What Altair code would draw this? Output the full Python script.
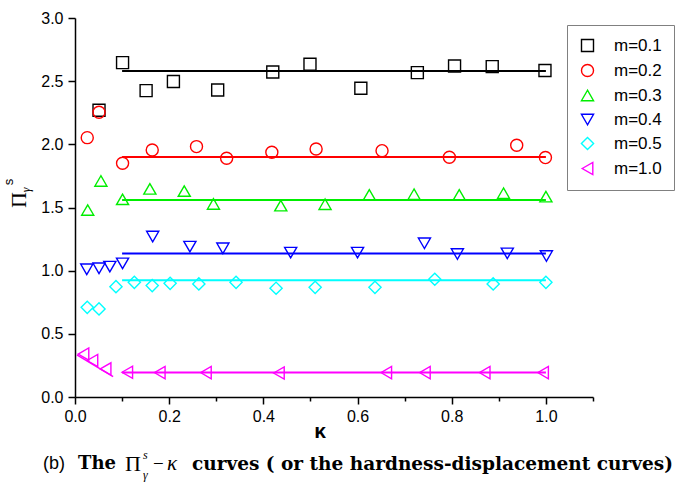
import altair as alt
import pandas as pd

# ---------------- data ----------------
series_labels = ["m=0.1", "m=0.2", "m=0.3", "m=0.4", "m=0.5", "m=1.0"]
series_colors = ["#000000", "#ff0000", "#00ee00", "#0000ff", "#00ffff", "#ff00ff"]
series_shapes = ["square", "circle", "triangle-up", "triangle-down", "diamond", "triangle-left"]
series_sizes = [144, 150, 190, 190, 220, 190]

m01_x = [0.051, 0.101, 0.151, 0.209, 0.303, 0.420, 0.499, 0.607, 0.727, 0.806, 0.886, 0.998]
m01_y = [2.27, 2.647, 2.425, 2.497, 2.43, 2.573, 2.634, 2.444, 2.568, 2.62, 2.615, 2.584]

m02_x = [0.026, 0.051, 0.101, 0.164, 0.258, 0.322, 0.418, 0.512, 0.652, 0.795, 0.938, 0.999]
m02_y = [2.053, 2.254, 1.85, 1.955, 1.982, 1.89, 1.937, 1.963, 1.95, 1.898, 1.993, 1.895]

m03_x = [0.027, 0.055, 0.101, 0.159, 0.232, 0.294, 0.437, 0.531, 0.625, 0.720, 0.816, 0.910, 1.000]
m03_y = [1.48, 1.71, 1.565, 1.647, 1.63, 1.528, 1.515, 1.526, 1.60, 1.605, 1.60, 1.613, 1.586]

m04_x = [0.025, 0.051, 0.074, 0.101, 0.165, 0.244, 0.314, 0.458, 0.600, 0.742, 0.812, 0.918, 1.001]
m04_y = [1.011, 1.019, 1.032, 1.058, 1.27, 1.19, 1.177, 1.143, 1.143, 1.217, 1.132, 1.137, 1.116]

m05_x = [0.026, 0.051, 0.087, 0.126, 0.164, 0.202, 0.263, 0.342, 0.427, 0.510, 0.637, 0.764, 0.888, 1.000]
m05_y = [0.71, 0.697, 0.873, 0.908, 0.882, 0.90, 0.895, 0.908, 0.861, 0.868, 0.868, 0.932, 0.895, 0.908]

m10_x = [0.018, 0.037, 0.065, 0.111, 0.180, 0.278, 0.433, 0.661, 0.743, 0.870, 0.994]
m10_y = [0.34, 0.289, 0.222, 0.196, 0.193, 0.193, 0.19, 0.193, 0.193, 0.193, 0.193]

# horizontal fitted levels (drawn from kappa = 0.1 to 1.0)
fit_levels = [2.58, 1.90, 1.56, 1.135, 0.925, 0.193]
fit_start = 0.1
fit_end = 1.0

# short sloping magenta segment at the left
m10_edge_x = [0.004, 0.081]
m10_edge_y = [0.333, 0.161]

x_ticks = [0.0, 0.1, 0.2, 0.3, 0.4, 0.5, 0.6, 0.7, 0.8, 0.9, 1.0, 1.1]
y_ticks = [0.0, 0.25, 0.5, 0.75, 1.0, 1.25, 1.5, 1.75, 2.0, 2.25, 2.5, 2.75, 3.0]

# ---------------- tables ----------------
xs = [m01_x, m02_x, m03_x, m04_x, m05_x, m10_x]
ys = [m01_y, m02_y, m03_y, m04_y, m05_y, m10_y]
rows = []
for lab, xx, yy in zip(series_labels, xs, ys):
    for a, b in zip(xx, yy):
        rows.append({"series": lab, "kappa": a, "pi": b})
pts = pd.DataFrame(rows)

fits = pd.DataFrame({
    "series": series_labels,
    "x0": [fit_start] * 6,
    "x1": [fit_end] * 6,
    "level": fit_levels,
    "col": series_colors,
})

edge = pd.DataFrame({"kappa": m10_edge_x, "pi": m10_edge_y, "col": [series_colors[5]] * 2})

xscale = alt.Scale(domain=[0, 1.1], nice=False, zero=False)
yscale = alt.Scale(domain=[0, 3], nice=False, zero=False)

x_major = "abs(datum.value*5-round(datum.value*5))<0.001"
y_major = "abs(datum.value*2-round(datum.value*2))<0.001"

xaxis = alt.Axis(values=x_ticks, title=None, grid=False,
                 labelExpr=f"{x_major} ? format(datum.value,'.1f') : ''",
                 tickSize={"condition": {"test": x_major, "value": 7}, "value": 4},
                 labelOverlap=False, labelFlush=False, labelPadding=4)
yaxis = alt.Axis(values=y_ticks, title=None, grid=False,
                 labelExpr=f"{y_major} ? format(datum.value,'.1f') : ''",
                 tickSize={"condition": {"test": y_major, "value": 7}, "value": 4},
                 labelOverlap=False, labelFlush=False, labelPadding=5)

rules = alt.Chart(fits).mark_rule(strokeWidth=2).encode(
    x=alt.X("x0:Q", scale=xscale, axis=xaxis),
    x2="x1:Q",
    y=alt.Y("level:Q", scale=yscale, axis=yaxis),
    color=alt.Color("col:N", scale=None),
)

edge_line = alt.Chart(edge).mark_line(strokeWidth=1.5).encode(
    x=alt.X("kappa:Q", scale=xscale),
    y=alt.Y("pi:Q", scale=yscale),
    color=alt.Color("col:N", scale=None),
)

points = alt.Chart(pts).mark_point(filled=False, strokeWidth=1.4, opacity=1).encode(
    x=alt.X("kappa:Q", scale=xscale),
    y=alt.Y("pi:Q", scale=yscale),
    color=alt.Color("series:N", scale=alt.Scale(domain=series_labels, range=series_colors),
                    legend=alt.Legend(orient="none", legendX=492, legendY=7, title=None,
                                      strokeColor="#808080", fillColor="white", padding=12,
                                      labelFont="Liberation Sans", labelFontSize=17,
                                      labelColor="black", symbolSize=140,
                                      symbolStrokeWidth=1.4, rowPadding=6, labelOffset=18)),
    shape=alt.Shape("series:N", scale=alt.Scale(domain=series_labels, range=series_shapes)),
    size=alt.Size("series:N", scale=alt.Scale(domain=series_labels, range=series_sizes), legend=None),
)

# annotations (titles and caption)
def txt(s, x, y, size, font="Liberation Sans", weight="normal", style="normal", angle=0, align="left"):
    return alt.Chart(pd.DataFrame({"t": [s]})).mark_text(
        font=font, fontSize=size, fontWeight=weight, fontStyle=style, angle=angle,
        align=align, baseline="middle", color="black"
    ).encode(text="t:N", x=alt.value(x), y=alt.value(y))

ytitle = (txt("Π", -56, 182, 22, font="Liberation Serif", angle=270, align="center")
          + txt("s", -66, 164, 13, font="Liberation Sans", angle=270, align="center")
          + txt("γ", -49, 172, 12, font="Liberation Serif", style="italic", angle=270, align="center"))
xtitle = txt("κ", 245, 414, 21, font="Liberation Sans", weight="bold", align="center")

cap_y = 446
caption = (txt("(b)", -32, cap_y, 18, font="Liberation Sans")
           + txt("The", 3, cap_y, 18, font="DejaVu Serif", weight="bold")
           + txt("Π", 50, cap_y, 22, font="Liberation Serif")
           + txt("s", 68, cap_y - 9, 12, font="Liberation Serif", style="italic")
           + txt("γ", 68, cap_y + 11, 12, font="Liberation Serif", style="italic")
           + txt("−", 78, cap_y, 19, font="Liberation Serif")
           + txt("κ", 92, cap_y, 21, font="Liberation Serif", style="italic")
           + txt("curves ( or the hardness-displacement curves)", 117, cap_y, 18.5,
                 font="DejaVu Serif", weight="bold"))

chart = alt.layer(rules, edge_line, points, ytitle, xtitle, caption).properties(
    width=518, height=379,
    autosize=alt.AutoSizeParams(type="none"),
    padding={"left": 75, "top": 18, "right": 85, "bottom": 88},
).configure(background="white").configure_view(stroke=None).configure_axis(
    domainColor="black", domainWidth=1.5, tickColor="black", tickWidth=1.5,
    labelColor="black", labelFont="Liberation Sans", labelFontSize=16,
)

chart.save("out.html", embed_options={"renderer": "svg", "actions": False})
